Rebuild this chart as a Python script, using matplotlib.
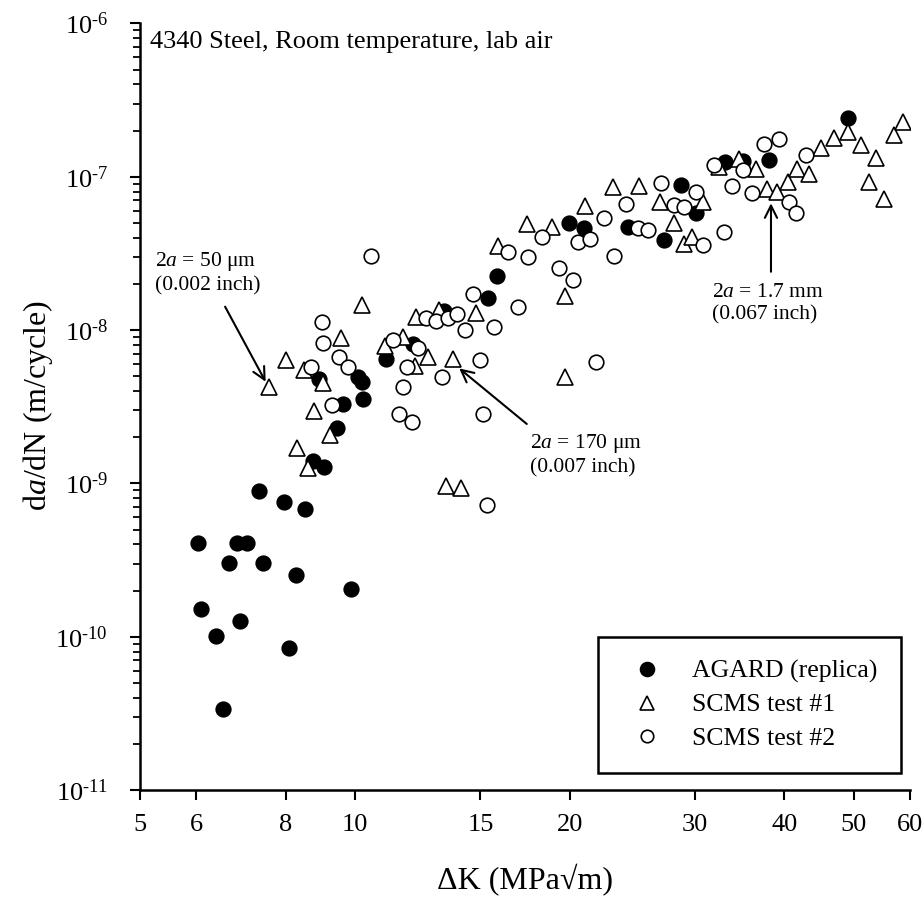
import matplotlib
matplotlib.use("Agg")
import matplotlib.pyplot as plt
from matplotlib.ticker import FixedLocator, NullFormatter, FixedFormatter
from matplotlib.lines import Line2D
import numpy as np

plt.rcParams['font.family'] = ['Liberation Serif', 'DejaVu Serif']
plt.rcParams['mathtext.fontset'] = 'custom'
plt.rcParams['mathtext.rm'] = 'Liberation Serif'
plt.rcParams['mathtext.it'] = 'Liberation Serif:italic'

# ---- data ----
agard_dk = [6.02, 6.83, 7.07, 6.66, 7.44, 8.27, 9.89, 6.09, 6.91, 6.39, 8.08, 6.53,
            7.35, 7.96, 8.52, 8.73, 9.05, 9.45, 9.64, 10.26, 10.23, 10.09, 8.91,
            11.06, 12.05, 13.32, 15.37, 15.84, 19.96, 20.96, 24.12, 27.16, 28.64,
            30.08, 32.98, 35.04, 38.09, 49.18]
agard_dadn = [4.06e-10, 4.06e-10, 4.06e-10, 3.03e-10, 3.03e-10, 2.53e-10, 2.04e-10,
              1.52e-10, 1.27e-10, 1.01e-10, 8.43e-11, 3.37e-11, 8.91e-10, 7.60e-10,
              6.78e-10, 1.40e-9, 1.27e-9, 2.29e-9, 3.29e-9, 3.56e-9, 4.56e-9, 4.96e-9,
              4.77e-9, 6.47e-9, 8.11e-9, 1.33e-8, 1.63e-8, 2.25e-8, 4.99e-8, 4.61e-8,
              4.68e-8, 3.85e-8, 8.88e-8, 5.77e-8, 1.25e-7, 1.27e-7, 1.29e-7, 2.40e-7]

test1_dk = [7.59, 8.00, 8.50, 9.02, 8.76, 9.22, 8.29, 8.61, 9.56, 10.23, 11.04, 11.70,
            12.13, 12.67, 13.71, 12.18, 13.12, 14.78, 13.41, 14.11, 19.68, 19.71,
            15.89, 17.42, 18.92, 21.02, 23.01, 25.05, 26.81, 28.02, 28.93, 29.65,
            30.72, 32.43, 34.55, 36.48, 37.86, 39.12, 40.45, 41.73, 43.26, 44.95,
            46.96, 49.09, 51.18, 53.77, 52.60, 55.17, 56.99, 58.72]
test1_dadn = [4.27e-9, 6.41e-9, 5.46e-9, 4.51e-9, 2.95e-9, 2.06e-9, 1.69e-9, 1.26e-9,
              8.87e-9, 1.46e-8, 7.83e-9, 9.0e-9, 5.87e-9, 6.67e-9, 6.46e-9, 1.21e-8,
              1.35e-8, 1.29e-8, 9.63e-10, 9.27e-10, 4.94e-9, 1.67e-8, 3.51e-8, 4.91e-8,
              4.72e-8, 6.44e-8, 8.57e-8, 8.70e-8, 6.82e-8, 5.0e-8, 3.65e-8, 4.04e-8,
              6.87e-8, 1.15e-7, 1.30e-7, 1.13e-7, 8.28e-8, 7.98e-8, 9.19e-8, 1.13e-7,
              1.04e-7, 1.53e-7, 1.78e-7, 1.96e-7, 1.61e-7, 1.32e-7, 9.28e-8, 7.18e-8,
              1.87e-7, 2.28e-7]

test2_dk = [9.00, 9.02, 8.68, 9.50, 9.77, 9.29, 10.54, 11.30, 12.25, 11.82, 11.67, 11.53,
            12.04, 13.24, 14.98, 15.14, 15.30, 12.57, 12.98, 13.49, 13.91, 14.27, 14.64,
            15.65, 16.95, 16.38, 17.51, 18.32, 19.35, 20.20, 20.53, 21.36, 22.36, 23.11,
            23.99, 24.98, 25.76, 26.84, 28.04, 28.96, 30.03, 30.80, 32.94, 31.87, 34.95,
            33.75, 36.09, 37.50, 39.31, 42.87, 40.58, 41.57, 21.78]
test2_dadn = [1.13e-8, 8.19e-9, 5.74e-9, 6.67e-9, 5.74e-9, 3.26e-9, 3.04e-8, 8.64e-9,
              7.63e-9, 5.72e-9, 4.27e-9, 2.83e-9, 2.52e-9, 4.97e-9, 6.37e-9, 2.82e-9,
              7.25e-10, 1.19e-8, 1.15e-8, 1.20e-8, 1.28e-8, 9.95e-9, 1.72e-8, 1.04e-8,
              1.41e-8, 3.21e-8, 3.01e-8, 4.02e-8, 2.53e-8, 2.12e-8, 3.77e-8, 3.91e-8,
              5.35e-8, 3.03e-8, 6.59e-8, 4.66e-8, 4.46e-8, 9.14e-8, 6.54e-8, 6.37e-8,
              7.91e-8, 3.56e-8, 4.36e-8, 1.19e-7, 1.11e-7, 8.72e-8, 7.79e-8, 1.63e-7,
              1.75e-7, 1.39e-7, 6.82e-8, 5.82e-8, 6.15e-9]

series_labels = ['AGARD (replica)', 'SCMS test #1', 'SCMS test #2']
x_ticks = [5, 6, 8, 10, 15, 20, 30, 40, 50, 60]
y_exponents = [-11, -10, -9, -8, -7, -6]

# annotation arrows: (tail, head) in data units
arrows = [((6.58, 1.42e-8), (7.50, 4.60e-9)),
          ((17.42, 2.44e-9), (14.01, 5.62e-9)),
          ((38.31, 2.40e-8), (38.31, 6.71e-8))]

# ---- figure ----
W, H = 924, 905
fig = plt.figure(figsize=(W / 100, H / 100), dpi=100)
L, R, T, B = 140, 910, 23.4, 790
ax = fig.add_axes([L / W, 1 - B / H, (R - L) / W, (B - T) / H])

ax.set_xscale('log')
ax.set_yscale('log')
ax.set_xlim(5, 60)
ax.set_ylim(1e-11, 1e-6)

ms_c = 10.5
ms_t = 11.5
ew = 1.2
ax.plot(agard_dk, agard_dadn, 'o', ms=ms_c, mfc='black', mec='black', mew=ew, zorder=3)
ax.plot(test1_dk, test1_dadn, '^', ms=ms_t, mfc='white', mec='black', mew=ew, zorder=4)
ax.plot(test2_dk, test2_dadn, 'o', ms=ms_c, mfc='white', mec='black', mew=ew, zorder=5)

for sp in ['top', 'right']:
    ax.spines[sp].set_visible(False)
for sp in ['left', 'bottom']:
    ax.spines[sp].set_linewidth(1.8)

ax.xaxis.set_major_locator(FixedLocator(x_ticks))
ax.xaxis.set_major_formatter(FixedFormatter([str(v) for v in x_ticks]))
ax.xaxis.set_minor_locator(FixedLocator([]))
ax.xaxis.set_minor_formatter(NullFormatter())

ax.yaxis.set_major_locator(FixedLocator([10.0 ** e for e in y_exponents]))
ax.yaxis.set_major_formatter(FixedFormatter(
    [r'$\mathregular{10^{‐%d}}$' % (-e) for e in y_exponents]))
minors = [m * 10.0 ** e for e in y_exponents[:-1] for m in range(2, 10)]
ax.yaxis.set_minor_locator(FixedLocator(minors))
ax.yaxis.set_minor_formatter(NullFormatter())

ax.tick_params(axis='both', which='major', direction='out', length=7, width=1.5,
               labelsize=19, colors='black')
ax.tick_params(axis='y', which='minor', direction='out', length=5, width=1.3)
ax.tick_params(axis='x', which='major', pad=10)
ax.tick_params(axis='y', which='major', pad=16)

fig.text(38 / W, 1 - 405 / H, r'd$\mathit{a}$/dN (m/cycle)', rotation=90,
         ha='center', va='center', fontsize=23)
fig.text(525 / W, 1 - 880 / H, 'ΔK (MPa√m)', ha='center', va='center', fontsize=23)

def axfrac(px, py):
    return ((px - L) / (R - L), (B - py) / (B - T))

ax.text(*axfrac(150, 48.3), '4340 Steel, Room temperature, lab air',
        transform=ax.transAxes, ha='left', va='baseline', fontsize=19)

ann_texts = [(155, 272.5, '2$\\mathit{a}$ = 50 μm\n(0.002 inch)'),
             (530, 455, '2$\\mathit{a}$ = 170 μm\n(0.007 inch)'),
             (711.7, 304, '2$\\mathit{a}$ = 1.7 mm\n(0.067 inch)')]
for px, py, s in ann_texts:
    ax.text(*axfrac(px, py), s, transform=ax.transAxes, ha='left', va='center',
            fontsize=15.5, linespacing=1.2)

for tail, head in arrows:
    ax.annotate('', xy=head, xytext=tail,
                arrowprops=dict(arrowstyle='->', color='black', lw=1.5,
                                mutation_scale=22, shrinkA=0, shrinkB=0))

handles = [Line2D([], [], ls='none', marker='o', ms=10, mfc='black', mec='black', mew=ew),
           Line2D([], [], ls='none', marker='^', ms=10, mfc='white', mec='black', mew=ew),
           Line2D([], [], ls='none', marker='o', ms=9, mfc='white', mec='black', mew=ew)]
leg = ax.legend(handles, series_labels, loc='upper left',
                bbox_to_anchor=axfrac(598.3, 636.7), fontsize=18.5,
                borderpad=0.9, handlelength=2.0, handletextpad=0.76,
                labelspacing=0.4, borderaxespad=0, fancybox=False, framealpha=1,
                edgecolor='black')
leg.get_frame().set_linewidth(1.8)
leg.set_zorder(10)

fig.savefig('out.png', dpi=100)
